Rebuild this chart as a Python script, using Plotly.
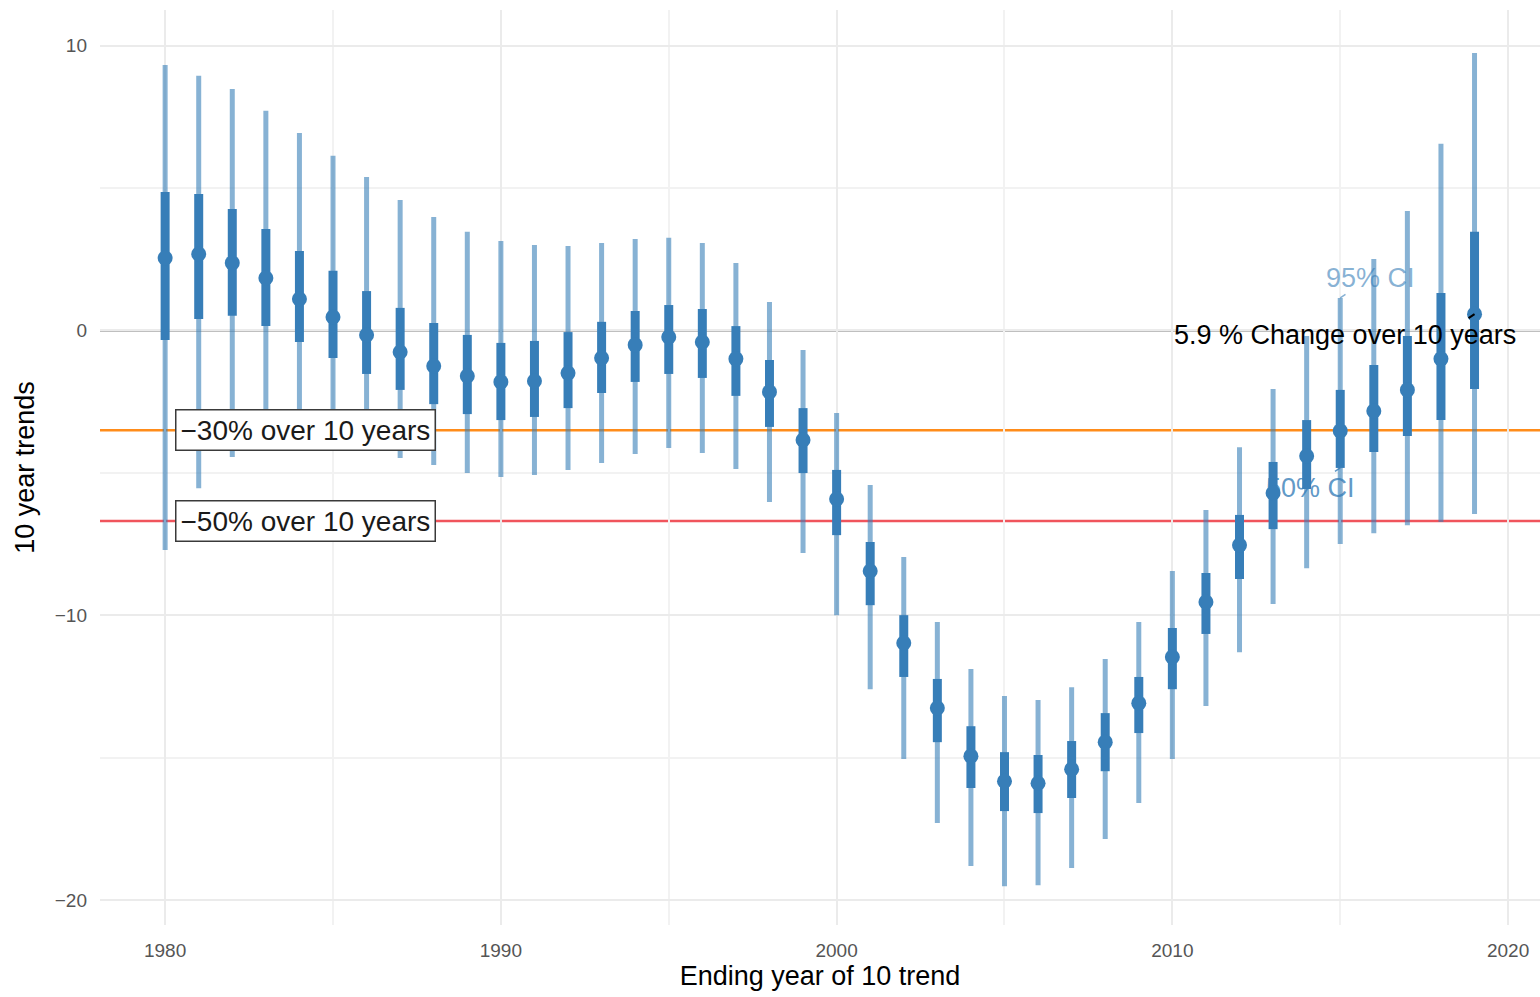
import plotly.graph_objects as go

years = list(range(1980, 2020))
trend_mean = [2.54, 2.68, 2.37, 1.84, 1.10, 0.47, -0.16, -0.76, -1.25, -1.60,
              -1.81, -1.78, -1.50, -0.97, -0.51, -0.23, -0.41, -1.00, -2.16, -3.85,
              -5.92, -8.45, -10.98, -13.26, -14.95, -15.83, -15.90, -15.41, -14.46, -13.09,
              -11.47, -9.54, -7.54, -5.71, -4.41, -3.53, -2.83, -2.09, -1.00, 0.57]
ci50_hi = [4.86, 4.79, 4.26, 3.56, 2.79, 2.09, 1.38, 0.79, 0.26, -0.16,
           -0.44, -0.37, -0.06, 0.30, 0.68, 0.89, 0.75, 0.15, -1.04, -2.73,
           -4.90, -7.43, -10.00, -12.24, -13.90, -14.81, -14.91, -14.42, -13.44, -12.17,
           -10.45, -8.52, -6.48, -4.62, -3.15, -2.09, -1.22, -0.20, 1.31, 3.46]
ci50_lo = [-0.34, 0.40, 0.51, 0.15, -0.41, -0.97, -1.53, -2.09, -2.59, -2.94,
           -3.15, -3.04, -2.73, -2.20, -1.81, -1.53, -1.67, -2.30, -3.39, -5.01,
           -7.19, -9.65, -12.17, -14.46, -16.07, -16.88, -16.95, -16.42, -15.48, -14.14,
           -12.60, -10.66, -8.73, -6.98, -5.57, -4.83, -4.27, -3.71, -3.15, -2.06]
ci95_hi = [9.32, 8.94, 8.48, 7.71, 6.93, 6.13, 5.39, 4.58, 3.98, 3.46,
           3.14, 3.00, 2.96, 3.07, 3.21, 3.25, 3.07, 2.37, 1.00, -0.69,
           -2.90, -5.43, -7.96, -10.24, -11.89, -12.84, -12.98, -12.53, -11.54, -10.24,
           -8.45, -6.31, -4.10, -2.06, -0.20, 1.14, 2.51, 4.19, 6.55, 9.74]
ci95_lo = [-7.71, -5.54, -4.45, -4.06, -3.78, -3.88, -4.10, -4.48, -4.73, -5.01,
           -5.15, -5.08, -4.90, -4.66, -4.34, -4.13, -4.31, -4.87, -6.03, -7.82,
           -10.00, -12.60, -15.05, -17.30, -18.81, -19.52, -19.48, -18.88, -17.86, -16.60,
           -15.05, -13.19, -11.30, -9.61, -8.35, -7.50, -7.12, -6.84, -6.73, -6.45]

ref_changes = [-0.30, -0.50]          # fractional change over 10 years
ref_labels = ["\u221230% over 10 years", "\u221250% over 10 years"]
ref_colors = ["#FF8C1A", "#F0545C"]
last_change_label = "5.9 % Change over 10 years"

x_ticks = [1980, 1990, 2000, 2010, 2020]
y_ticks = [-20, -10, 0, 10]

BLUE = "#377EB8"
BLUE_T = "rgba(55,126,184,0.6)"
FONT = "Liberation Sans, Arial"

def segs(xs, lo, hi):
    X, Y = [], []
    for x, a, b in zip(xs, lo, hi):
        X += [x, x, None]
        Y += [a, b, None]
    return X, Y

fig = go.Figure()

# reference lines
fig.add_hline(y=0, line=dict(color="#808080", width=2), layer="below")
for ch, col in zip(ref_changes, ref_colors):
    yv = ((1 + ch) ** 0.1 - 1) * 100
    fig.add_hline(y=yv, line=dict(color=col, width=2.5), layer="below")

x95, y95 = segs(years, ci95_lo, ci95_hi)
fig.add_trace(go.Scatter(x=x95, y=y95, mode="lines",
                         line=dict(color=BLUE_T, width=5), hoverinfo="skip",
                         showlegend=False))
x50, y50 = segs(years, ci50_lo, ci50_hi)
fig.add_trace(go.Scatter(x=x50, y=y50, mode="lines",
                         line=dict(color=BLUE, width=9), hoverinfo="skip",
                         showlegend=False))
fig.add_trace(go.Scatter(x=years, y=trend_mean, mode="markers",
                         marker=dict(color=BLUE, size=15), showlegend=False))

# labels for reference lines
for ch, lab in zip(ref_changes, ref_labels):
    yv = ((1 + ch) ** 0.1 - 1) * 100
    fig.add_annotation(x=1980.3, y=yv, text=lab, showarrow=False,
                       xanchor="left", yanchor="middle",
                       font=dict(family=FONT, size=28, color="#1a1a1a"),
                       bgcolor="white", bordercolor="#3a3a3a", borderwidth=1.5,
                       borderpad=4)

# CI labels
fig.add_annotation(x=years[-5], y=ci95_hi[-5], text="95% CI", showarrow=True,
                   arrowhead=0, arrowwidth=1.5, arrowcolor=BLUE_T,
                   ax=30, ay=-20,
                   font=dict(family=FONT, size=27, color=BLUE_T))
fig.add_annotation(x=years[-5], y=ci50_lo[-5], text="50% CI", showarrow=True,
                   arrowhead=0, arrowwidth=1.5, arrowcolor="rgba(55,126,184,0.8)",
                   ax=-30, ay=20,
                   font=dict(family=FONT, size=27, color="rgba(55,126,184,0.8)"))
fig.add_annotation(x=years[-1], y=trend_mean[-1], text=" ", showarrow=True,
                   arrowhead=0, arrowwidth=2, arrowcolor="black", ax=-9, ay=6)
fig.add_annotation(x=2015.13, y=-0.15, text=last_change_label, showarrow=False,
                   font=dict(family=FONT, size=27, color="black"))

grid = "#EBEBEB"
fig.update_xaxes(range=[1978.06, 2020.95], tickvals=x_ticks,
                 showgrid=True, gridcolor=grid, gridwidth=2,
                 minor=dict(dtick=5, tick0=1975, showgrid=True, gridcolor="#F2F2F2", gridwidth=1.5),
                 zeroline=False, showline=False, ticks="", ticklabelstandoff=12,
                 tickfont=dict(family=FONT, size=19, color="#555555"),
                 title=dict(text="Ending year of 10 trend", standoff=6,
                            font=dict(family=FONT, size=27, color="black")))
fig.update_yaxes(range=[-20.88, 11.25], tickvals=y_ticks,
                 showgrid=True, gridcolor=grid, gridwidth=2,
                 minor=dict(dtick=5, tick0=-25, showgrid=True, gridcolor="#F2F2F2", gridwidth=1.5),
                 zeroline=False, showline=False, ticks="", ticklabelstandoff=12,
                 tickfont=dict(family=FONT, size=19, color="#555555"),
                 title=dict(text="10 year trends", standoff=12,
                            font=dict(family=FONT, size=27, color="black")))

fig.update_layout(width=1540, height=997, plot_bgcolor="white", paper_bgcolor="white",
                  margin=dict(l=100, r=0, t=10, b=72), showlegend=False)

fig.write_html("out.html", config={"displayModeBar": False},
               post_script="document.body.style.margin='0';")
